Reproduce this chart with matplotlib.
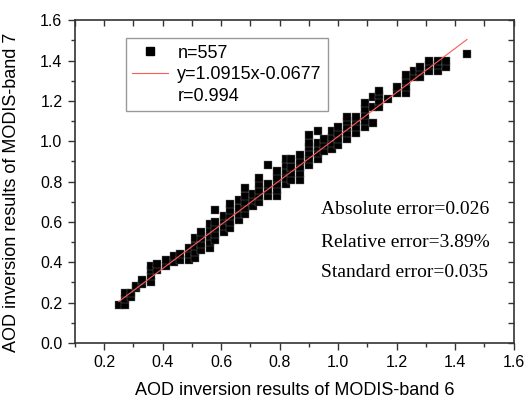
import numpy as np
import matplotlib.pyplot as plt
from matplotlib.lines import Line2D

# columns of squares: x -> list of y
cols_x = [0.25, 0.27, 0.29, 0.31, 0.33, 0.36, 0.38, 0.41, 0.44, 0.46,
          0.49, 0.51, 0.53, 0.56, 0.58, 0.61, 0.63, 0.66, 0.68, 0.71,
          0.73, 0.76, 0.79, 0.82, 0.84, 0.87, 0.90, 0.93, 0.95, 0.98,
          1.00, 1.03, 1.06, 1.09, 1.12, 1.14, 1.17, 1.20, 1.23, 1.26,
          1.28, 1.31, 1.34, 1.37, 1.44]
cols_y = [[0.19], [0.19, 0.22, 0.25], [0.23, 0.25], [0.27, 0.28], [0.29, 0.31],
          [0.30, 0.33, 0.36, 0.38], [0.36, 0.39], [0.38, 0.41], [0.40, 0.43], [0.41, 0.44],
          [0.41, 0.44, 0.47], [0.42, 0.45, 0.48, 0.52], [0.46, 0.49, 0.52, 0.55],
          [0.47, 0.50, 0.53, 0.56, 0.59], [0.51, 0.54, 0.57, 0.60, 0.66],
          [0.55, 0.58, 0.61, 0.63], [0.57, 0.60, 0.63, 0.66, 0.69], [0.61, 0.64, 0.67, 0.71],
          [0.64, 0.67, 0.70, 0.73, 0.77], [0.68, 0.71, 0.74],
          [0.70, 0.73, 0.76, 0.79, 0.82], [0.73, 0.76, 0.79, 0.88],
          [0.73, 0.76, 0.79, 0.82, 0.85], [0.79, 0.82, 0.85, 0.88, 0.91],
          [0.81, 0.84, 0.87, 0.91], [0.81, 0.84, 0.87, 0.90, 0.93],
          [0.88, 0.91, 0.94, 0.97, 0.99, 1.03], [0.91, 0.94, 0.97, 0.99, 1.05],
          [0.95, 0.98, 1.01], [0.96, 0.99, 1.02, 1.05], [0.98, 1.01, 1.04, 1.07],
          [1.01, 1.04, 1.07, 1.10, 1.12], [1.04, 1.07, 1.10, 1.12],
          [1.07, 1.10, 1.13, 1.16, 1.19], [1.09, 1.17, 1.22], [1.17, 1.20, 1.23, 1.25],
          [1.21], [1.24, 1.27], [1.24, 1.27, 1.30, 1.33], [1.32, 1.35],
          [1.32, 1.35, 1.37], [1.35, 1.38, 1.40], [1.35, 1.38, 1.40], [1.37, 1.40], [1.43]]

slope, intercept = 1.0915, -0.0677
fit_x = [0.25, 1.44]

xs = [x for x, ys in zip(cols_x, cols_y) for _ in ys]
ys = [y for col in cols_y for y in col]

fig = plt.figure(figsize=(5.28, 4.03), dpi=100)
ax = fig.add_axes([0.142, 0.149, 0.831, 0.801])

ax.plot(xs, ys, 's', color='black', markersize=6.0, mec='0.45', mew=0.3, zorder=2)
fx = np.array(fit_x)
ax.plot(fx, slope * fx + intercept, color='#ff5a5a', lw=0.8, zorder=3)

ax.set_xlim(0.1, 1.6)
ax.set_ylim(0.0, 1.6)
ax.set_xticks(np.arange(0.2, 1.61, 0.2))
ax.set_yticks(np.arange(0.0, 1.61, 0.2))
ax.set_xticks(np.arange(0.1, 1.61, 0.2), minor=True)
ax.set_yticks(np.arange(0.1, 1.61, 0.2), minor=True)
ax.xaxis.set_major_formatter(plt.FormatStrFormatter('%.1f'))
ax.yaxis.set_major_formatter(plt.FormatStrFormatter('%.1f'))

sans = 'Liberation Sans'
ax.tick_params(which='major', direction='out', length=5, width=1, color='#333333',
               labelsize=11.5, pad=4)
ax.tick_params(which='minor', direction='out', length=3, width=1, color='#333333')
for lab in ax.get_xticklabels() + ax.get_yticklabels():
    lab.set_fontfamily(sans)

# inward ticks on top and right
top = ax.secondary_xaxis('top')
top.set_xticks(np.arange(0.2, 1.61, 0.2))
top.set_xticks(np.arange(0.1, 1.61, 0.2), minor=True)
top.tick_params(which='both', direction='in', length=4, width=1, color='#333333', labeltop=False)
right = ax.secondary_yaxis('right')
right.set_yticks(np.arange(0.0, 1.61, 0.2))
right.set_yticks(np.arange(0.1, 1.61, 0.2), minor=True)
right.tick_params(which='both', direction='in', length=4, width=1, color='#333333', labelright=False)

for sp in ax.spines.values():
    sp.set_color('#333333')
    sp.set_linewidth(1.2)
top.spines['top'].set_visible(False)
right.spines['right'].set_visible(False)

ax.set_xlabel('AOD inversion results of MODIS-band 6', fontsize=13, family=sans, labelpad=8)
ax.set_ylabel('AOD inversion results of MODIS-band 7', fontsize=13, family=sans)
ax.yaxis.set_label_coords(-0.125, 0.465)

handles = [
    Line2D([], [], ls='none', marker='s', color='black', markersize=6.0),
    Line2D([], [], color='#ff5a5a', lw=0.8),
    Line2D([], [], ls='none'),
]
labels = ['n=557', 'y=1.0915x-0.0677', 'r=0.994']
leg = ax.legend(handles, labels, loc='upper left', bbox_to_anchor=(0.116, 0.944),
                borderaxespad=0, fancybox=False, framealpha=1, edgecolor='#999999',
                prop={'family': sans, 'size': 13}, labelspacing=0.25,
                handlelength=2.0, handletextpad=0.5, borderpad=0.35)
leg.get_frame().set_linewidth(1.0)

notes = ['Absolute error=0.026', 'Relative error=3.89%', 'Standard error=0.035']
note_y = [0.66, 0.50, 0.35]
for t, y in zip(notes, note_y):
    ax.text(0.94, y, t, fontsize=14, family='Liberation Serif', va='center', ha='left')

fig.savefig('out.png', dpi=100)
